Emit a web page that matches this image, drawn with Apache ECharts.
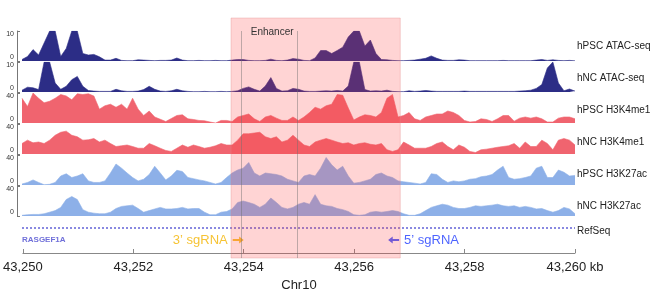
<!DOCTYPE html>
<html>
<head>
<meta charset="utf-8">
<title>Chr10 enhancer tracks</title>
<script src="https://cdn.jsdelivr.net/npm/echarts@6/dist/echarts.min.js"></script>
<style>
  html, body { margin: 0; padding: 0; background: #fff; }
  #chart { width: 664px; height: 293px; }
</style>
</head>
<body>
<div id="chart"></div>
<script>
const viewStart = 43250;
const viewEnd = 43260;
const binSize = 0.1;

const trackNames = ["hPSC ATAC-seq", "hNC ATAC-seq", "hPSC H3K4me1", "hNC H3K4me1", "hPSC H3K27ac", "hNC H3K27ac"];
const trackMax = [10, 10, 40, 40, 40, 40];

const hpscAtac = [
  0.5, 1.5, 3.8, 2.0, 6.0, 10, 10, 1.5, 4.2, 10,
  10, 2.5, 2.0, 2.2, 1.4, 0.3, 0.3, 0.9, 0.2, 0.1,
  0.1, 0.4, 0.3, 0.2, 0.1, 0.2, 0.2, 0.3, 1.0, 0.3,
  0.1, 0.1, 0.2, 0.1, 0.1, 0.2, 0.1, 0.1, 0.3, 0.5,
  0.5, 0.2, 0.1, 0.1, 0.2, 0.6, 0.2, 0.1, 0.3, 0.8,
  0.6, 0.2, 0.1, 1.0, 3.5, 3.5, 2.5, 3.5, 4.6, 8.0,
  10, 10, 5.0, 7.0, 2.5, 0.5, 0.4, 0.2, 0.1, 0.1,
  0.2, 0.3, 0.6, 0.9, 1.7, 0.9, 0.3, 0.2, 0.2, 0.4,
  0.3, 0.1, 0.1, 0.1, 0.1, 0.1, 0.1, 0.2, 0.1, 0.1,
  0.1, 0.1, 0.1, 0.3, 0.5, 0.2, 0.4, 0.2, 0.1, 0.2,
  0.1
];
const hncAtac = [
  0.6, 1.6, 1.4, 0.8, 10, 10, 3.0, 0.9, 1.9, 4.1,
  5.2, 1.9, 0.5, 0.3, 0.2, 0.2, 0.2, 0.9, 0.4, 0.2,
  0.2, 0.3, 0.8, 1.9, 0.9, 0.3, 0.2, 0.4, 0.9, 0.4,
  0.2, 0.1, 0.1, 0.2, 0.1, 0.1, 0.2, 0.1, 0.2, 0.4,
  1.2, 1.7, 0.9, 0.3, 2.0, 4.8, 1.2, 0.3, 0.4, 1.2,
  0.9, 0.3, 0.2, 0.2, 0.3, 0.4, 0.3, 0.5, 0.3, 2.0,
  10, 10, 0.8, 0.3, 0.4, 0.3, 0.6, 0.2, 0.1, 0.1,
  0.4, 0.2, 0.3, 0.5, 0.3, 0.2, 0.2, 0.2, 0.2, 0.2,
  0.3, 0.2, 0.2, 0.2, 0.2, 0.2, 0.2, 0.2, 0.2, 0.2,
  0.3, 0.4, 0.6, 1.2, 2.5, 8.0, 10, 3.0, 0.4, 1.0,
  0.3
];
const hpscK4me1 = [
  33, 22, 40, 33, 27, 29, 33, 38, 36, 31,
  39, 38, 39, 36, 18.5, 23, 25, 21, 25, 18.5,
  33, 18.5, 10, 16, 8, 5, 2, 6, 10, 11,
  5.6, 4.7, 3.4, 3, 1.3, 0, 3.4, 3.4, 2, 8,
  10, 12, 5.6, 2, 8, 10, 6.5, 3.4, 3.4, 8,
  3.4, 8, 14, 21, 18.5, 23, 25, 38, 37, 20,
  4, 8, 11, 10, 8, 14, 33, 38, 8, 10,
  14, 5.6, 3.4, 8, 10, 12, 12, 16, 14, 10,
  3.4, 1.3, 2, 5.6, 4.7, 2, 5.6, 10, 10, 2.5,
  6.5, 8, 6.5, 8, 5.6, 1.3, 1.3, 6.5, 8, 8,
  5.6
];
const hncK4me1 = [
  14, 18.5, 15, 16, 14, 18.5, 25, 29, 30.5, 25,
  23, 18.5, 19, 20.6, 16, 18.5, 14, 10, 11, 12,
  10, 7.7, 7.7, 14, 11, 7.7, 4.7, 3.4, 7.7, 12,
  9, 12, 10, 7.7, 9, 11, 14, 12, 12, 18.5,
  27, 27, 28, 29, 23, 20.6, 23, 16, 18.5, 25,
  18.5, 12, 10, 16, 18.5, 20.6, 18.5, 16, 14, 15,
  12, 14, 15, 13, 12, 14, 5.6, 3.4, 5.6, 16,
  12, 7.7, 7.7, 7.7, 10, 14, 16, 10, 5.6, 12,
  9, 3.4, 2, 5.6, 6.5, 7.7, 9, 10, 11, 14,
  7.7, 16, 10, 10, 18.5, 14, 5.6, 18.5, 20.6, 18.5,
  12
];
const hpscK27ac = [
  1.3, 3.4, 6.8, 3.4, 0.4, 0.9, 3.4, 12, 15, 10,
  12, 15, 5.5, 3.4, 3.4, 5.5, 16, 28, 22.5, 16,
  10, 5.5, 7.7, 14, 25, 16, 6.8, 12, 19.6, 18,
  10, 8.5, 6.8, 5.5, 3.4, 1.3, 3.4, 10, 16, 20,
  22.5, 30, 16, 12, 16, 15, 14, 12, 7.7, 5.5,
  3.4, 12, 14, 12, 22.5, 36.6, 27, 20, 25, 12,
  2.5, 3.4, 5.5, 7.7, 14, 16, 12, 10, 5.5, 4.3,
  3.4, 2.5, 1.3, 3.4, 15, 14, 7.7, 3.4, 5.5, 4.3,
  5.5, 7.7, 8.5, 11, 12, 14, 20, 25, 10, 7.7,
  8.5, 10, 12, 22.5, 25, 10, 10, 20, 17, 12,
  12.8
];
const hncK27ac = [
  0.9, 1.7, 2.1, 2.1, 3, 5.1, 7.2, 11.5, 22, 26,
  22, 8.5, 5.1, 3.8, 3, 3, 5.1, 10, 12.8, 13.6,
  14.5, 10, 5.1, 7.2, 9.4, 11.5, 9.4, 9.4, 10, 11.5,
  9.4, 10, 10, 5.1, 1.7, 1.7, 5.1, 6, 9.4, 18,
  20, 18, 15.7, 11.5, 15.7, 24, 18, 11.5, 9.4, 11.5,
  15.7, 18, 15.7, 28.5, 15.7, 13.6, 12.8, 10, 8.5, 6,
  1.7, 0.9, 1.7, 5.1, 6, 5.1, 6, 7.2, 6, 3,
  0.9, 0.9, 3, 7.2, 11.5, 13.6, 15.7, 14.5, 11.5, 10,
  10, 11.5, 13.6, 12.8, 13.6, 14.5, 15.7, 13.6, 12.8, 13.6,
  11.5, 12.8, 11.5, 9.4, 10, 7.2, 5.1, 7.2, 11.5, 9.4,
  3
];
const trackValues = [hpscAtac, hncAtac, hpscK4me1, hncK4me1, hpscK27ac, hncK27ac];

// annotations (kb)
const enhancer = [43253.78, 43256.84];
const enhancerLines = [43253.96, 43254.97];
const gene = { name: "RASGEF1A", start: 43250, end: 43260 };
const sgrnaNames = ["3\u2019 sgRNA", "5\u2019 sgRNA"];
const sgrnaPos = [43253.91, 43256.72];
const sgrnaStrand = [1, -1];

// styling
const trackColors = ["#2c2d86", "#2c2d86", "#f0646f", "#f0646f", "#8db0e8", "#8db0e8"];
const sgrnaColors = ["#f4b400", "#1f3cff"];
const plotLeft = 22;
const plotRight = 89;
const trackTops = [31, 62, 93, 124, 155, 186];
const trackHeight = 30;
const labelFont = "10px 'Liberation Sans', Arial, sans-serif";

const chart = echarts.init(document.getElementById("chart"));

const positions = hpscAtac.map((_, i) => +(viewStart + i * binSize).toFixed(2));

const grids = [];
const xAxes = [];
const yAxes = [];
const series = [];
const graphics = [];

function hiddenX(gi) {
  return { type: "value", gridIndex: gi, min: viewStart, max: viewEnd, show: false };
}

// signal tracks
trackValues.forEach((vals, k) => {
  grids.push({ left: plotLeft, right: plotRight, top: trackTops[k], height: trackHeight });
  xAxes.push(hiddenX(k));
  yAxes.push({
    type: "value",
    gridIndex: k,
    min: 0,
    max: trackMax[k],
    interval: trackMax[k],
    offset: 5,
    splitLine: { show: false },
    axisLine: { show: true, lineStyle: { color: "#777", width: 1 } },
    axisTick: { show: true, inside: true, length: 3, lineStyle: { color: "#777" } },
    axisLabel: {
      fontSize: 7,
      color: "#333",
      margin: 3,
      // push the 0 label up and the max label down so they stack like the original
      formatter: (v) => (v === 0 ? "{b|0}" : "{t|" + v + "}"),
      rich: {
        b: { fontSize: 7, padding: [0, 0, 7, 0] },
        t: { fontSize: 7, padding: [6, 0, 0, 0] },
      },
    },
  });
  series.push({
    name: trackNames[k],
    type: "line",
    xAxisIndex: k,
    yAxisIndex: k,
    data: positions.map((p, i) => [p, vals[i]]),
    symbol: "none",
    lineStyle: { color: trackColors[k], width: 0.6 },
    areaStyle: { color: trackColors[k], opacity: 1 },
    z: 2,
  });
  graphics.push({
    type: "text",
    left: 577,
    top: trackTops[k] + 10 + k,
    style: { text: trackNames[k], fill: "#222", font: labelFont },
  });
});

// RefSeq / sgRNA rows
const refGrid = grids.length;
grids.push({ left: plotLeft, right: plotRight, top: 222, height: 24 });
xAxes.push(hiddenX(refGrid));
yAxes.push({ type: "category", gridIndex: refGrid, data: ["sgRNA", "RefSeq"], show: false });
series.push({
  type: "line",
  xAxisIndex: refGrid,
  yAxisIndex: refGrid,
  data: [[gene.start, "RefSeq"], [gene.end, "RefSeq"]],
  symbol: "none",
  lineStyle: { color: "#6363d8", width: 1.6, type: [2, 2] },
  z: 2,
});
series.push({
  type: "scatter",
  xAxisIndex: refGrid,
  yAxisIndex: refGrid,
  z: 3,
  data: [
    {
      value: [gene.start, "sgRNA"],
      symbolSize: 0,
      label: { show: true, position: "right", distance: 0, formatter: gene.name, color: "#4b4bd0", fontSize: 8, fontWeight: "bold" },
    },
  ].concat(
    sgrnaNames.map((name, i) => ({
      value: [sgrnaPos[i], "sgRNA"],
      symbol: "path://M0,4 L7,4 L7,0 L12,5.5 L7,11 L7,7 L0,7 Z",
      symbolSize: [11, 7],
      symbolRotate: sgrnaStrand[i] > 0 ? 0 : 180,
      itemStyle: { color: sgrnaColors[i] },
      label: {
        show: true,
        position: sgrnaStrand[i] > 0 ? "left" : "right",
        distance: 5,
        formatter: name,
        color: sgrnaColors[i],
        fontSize: 13,
      },
    }))
  ),
});
graphics.push({
  type: "text",
  left: 577,
  top: 226,
  style: { text: "RefSeq", fill: "#222", font: labelFont },
});

// enhancer shading, drawn above the tracks so it tints them
const shadeGrid = grids.length;
grids.push({ left: plotLeft, right: plotRight, top: 18, height: 240 });
xAxes.push(hiddenX(shadeGrid));
yAxes.push({ type: "value", gridIndex: shadeGrid, min: 0, max: 1, show: false });
series.push({
  type: "line",
  xAxisIndex: shadeGrid,
  yAxisIndex: shadeGrid,
  data: [[viewStart, 0]],
  symbol: "none",
  lineStyle: { width: 0 },
  z: 10,
  markArea: {
    silent: true,
    z: 10,
    itemStyle: { color: "rgba(255,60,60,0.22)", borderColor: "rgba(225,140,140,0.6)", borderWidth: 0.6 },
    label: { show: true, position: [20, 10], color: "#333", fontSize: 10 },
    data: [[{ name: "Enhancer", xAxis: enhancer[0] }, { xAxis: enhancer[1] }]],
  },
});

// thin guide lines inside the enhancer
const lineGrid = grids.length;
grids.push({ left: plotLeft, right: plotRight, top: 31, height: 227 });
xAxes.push(hiddenX(lineGrid));
yAxes.push({ type: "value", gridIndex: lineGrid, min: 0, max: 1, show: false });
series.push({
  type: "line",
  xAxisIndex: lineGrid,
  yAxisIndex: lineGrid,
  data: [[viewStart, 0]],
  symbol: "none",
  lineStyle: { width: 0 },
  z: 11,
  markLine: {
    silent: true,
    z: 11,
    symbol: ["none", "none"],
    label: { show: false },
    lineStyle: { color: "rgba(110,110,110,0.45)", type: "solid", width: 1 },
    data: enhancerLines.map((v) => ({ xAxis: v })),
  },
});

// genome coordinate axis
const axisGrid = grids.length;
grids.push({ left: plotLeft, right: plotRight, top: 235, height: 20 });
xAxes.push({
  type: "value",
  gridIndex: axisGrid,
  min: viewStart,
  max: viewEnd,
  interval: 2,
  name: "Chr10",
  nameLocation: "middle",
  nameGap: 26,
  nameTextStyle: { fontSize: 13, color: "#222" },
  axisLine: { show: true, lineStyle: { color: "#888" } },
  axisTick: { show: true, inside: true, length: 4, lineStyle: { color: "#888" } },
  splitLine: { show: false },
  axisLabel: {
    fontSize: 13,
    color: "#222",
    margin: 8,
    formatter: (v) => v.toLocaleString("en-US") + (v === viewEnd ? " kb" : ""),
  },
});
yAxes.push({ type: "value", gridIndex: axisGrid, show: false });

const option = {
  animation: false,
  backgroundColor: "#fff",
  textStyle: { fontFamily: "'Liberation Sans', Arial, Helvetica, sans-serif" },
  grid: grids,
  xAxis: xAxes,
  yAxis: yAxes,
  series: series,
  graphic: graphics,
};

chart.setOption(option);
</script>
</body>
</html>
